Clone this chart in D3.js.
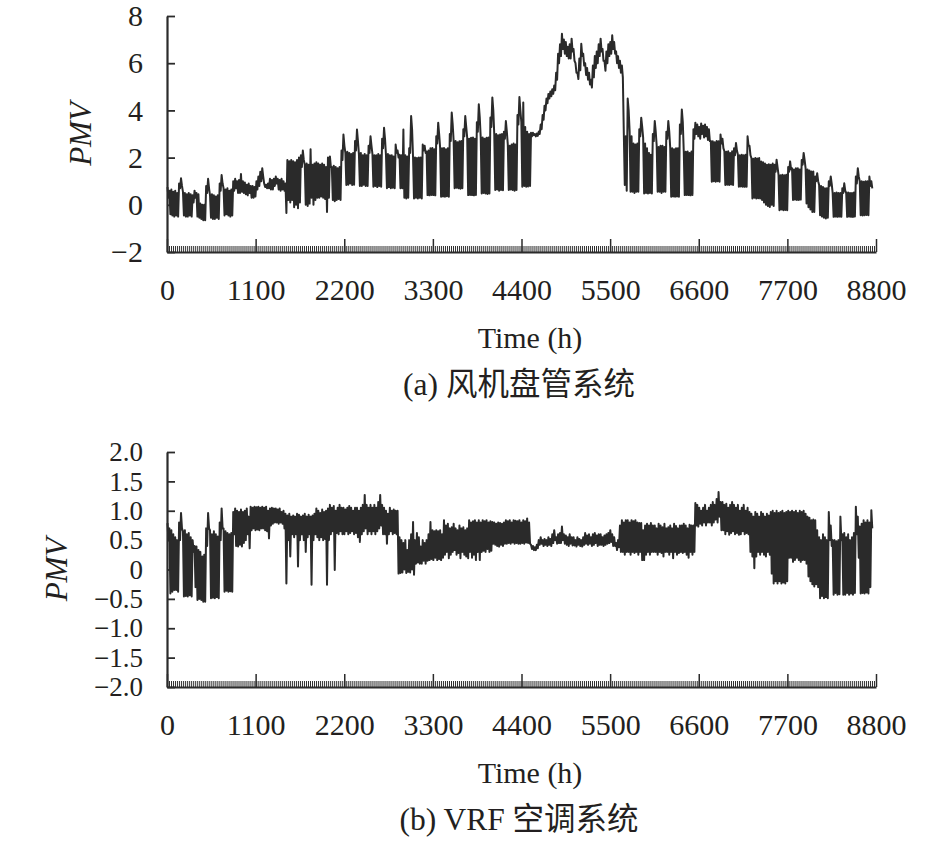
<!DOCTYPE html>
<html>
<head>
<meta charset="utf-8">
<script src="https://cdn.jsdelivr.net/npm/d3@7"></script>
<style>
  body { margin: 0; background: #fff; }
  text { font-family: "Liberation Serif", "Times New Roman", "Noto Sans CJK SC", serif; fill: #231f20; }
</style>
</head>
<body>
<svg id="chart" width="945" height="850"></svg>
<script>
// tick labels
const xTicks = [0, 1100, 2200, 3300, 4400, 5500, 6600, 7700, 8800];
const fcuTicks = [-2, 0, 2, 4, 6, 8];
const vrfTicks = [-2, -1.5, -1, -0.5, 0, 0.5, 1, 1.5, 2];

// daily PMV extremes, one row per week (Sun..Sat)
// (a) fan coil system
const fcuMax = [
  0.75, 0.6, 0.65, 0.55, 0.6, 0.5, 0.9,
  1.12, 0.55, 0.5, 0.45, 0.5, 0.45, 0.4,
  0.6, 0.5, 0.45, 0.05, 0.0, 0.0, 0.8,
  1.1, 0.4, 0.45, 0.4, 0.35, 0.4, 0.9,
  1.26, 0.7, 0.65, 0.7, 0.6, 0.65, 1.0,
  1.1, 1.0, 1.05, 1.3, 1.0, 0.95, 0.85,
  0.9, 0.8, 0.8, 0.75, 1.0, 1.2, 1.4,
  1.55, 0.9, 0.85, 0.9, 1.1, 1.05, 1.1,
  1.2, 1.1, 1.05, 1.1, 1.0, 0.9, 1.9,
  1.85, 1.9, 1.85, 1.8, 1.9, 2.0, 2.1,
  2.3, 1.7, 1.75, 1.7, 2.35, 1.7, 1.75,
  1.8, 1.75, 1.7, 1.75, 1.7, 1.6, 2.0,
  2.05, 1.6, 1.65, 1.6, 1.55, 1.6, 2.3,
  2.98, 2.2, 2.25, 2.2, 2.15, 2.2, 2.7,
  3.19, 2.15, 2.2, 2.1, 2.15, 2.1, 2.5,
  2.9, 2.15, 2.1, 2.1, 2.15, 2.1, 2.8,
  3.26, 2.1, 2.15, 2.1, 2.1, 2.05, 2.55,
  2.3, 2.12, 2.1, 3.19, 2.1, 2.05, 2.4,
  3.76, 2.0, 2.0, 1.98, 2.0, 2.0, 2.55,
  2.5, 2.26, 2.3, 2.4, 2.41, 2.35, 2.9,
  3.48, 2.41, 2.4, 2.41, 2.35, 2.4, 3.0,
  3.91, 2.69, 2.7, 2.65, 2.69, 2.7, 3.2,
  3.76, 2.84, 2.8, 2.84, 2.85, 2.8, 3.5,
  4.26, 2.84, 2.85, 2.8, 2.84, 2.85, 3.7,
  4.55, 2.98, 3.0, 2.95, 2.98, 3.0, 3.1,
  3.55, 2.55, 2.5, 2.55, 2.6, 2.55, 3.8,
  4.57, 3.5, 4.33, 3.3, 3.1, 3.0, 3.05,
  3.05, 3.0, 3.02, 3.1, 3.4, 3.8, 4.2,
  4.5, 4.7, 4.8, 4.9, 5.05, 5.6, 6.4,
  6.8, 7.25, 7.0, 6.9, 6.7, 6.8, 7.04,
  6.6, 6.0, 5.6, 6.2, 6.82, 6.4, 6.0,
  5.8, 5.6, 5.3, 5.9, 6.3, 6.5, 6.8,
  7.04, 6.6, 6.1, 6.5, 6.8, 6.9, 7.18,
  6.9, 6.5, 6.3, 6.1, 5.9, 3.0, 2.9,
  4.5, 3.1, 2.9, 2.6, 2.55, 2.6, 3.2,
  3.69, 2.84, 2.6, 2.4, 2.2, 2.12, 3.0,
  3.55, 2.5, 2.45, 2.5, 2.5, 2.45, 3.1,
  3.55, 2.4, 2.4, 2.35, 2.4, 2.4, 3.4,
  4.04, 2.26, 2.25, 2.26, 2.2, 2.26, 3.2,
  3.48, 3.4, 3.3, 3.45, 3.35, 3.4, 3.3,
  3.2, 2.7, 2.69, 2.65, 2.7, 2.69, 2.98,
  2.8, 2.27, 2.25, 2.27, 2.2, 2.27, 2.4,
  2.62, 2.12, 2.1, 2.12, 2.1, 2.12, 2.9,
  2.5, 1.98, 1.95, 1.98, 1.96, 1.98, 1.84,
  1.8, 1.75, 1.7, 1.72, 1.7, 1.75, 1.7,
  1.91, 1.27, 1.25, 1.27, 1.25, 1.27, 1.6,
  1.84, 1.55, 1.5, 1.55, 1.55, 1.5, 1.9,
  2.2, 1.55, 1.5, 1.45, 1.41, 1.41, 1.2,
  1.34, 0.84, 0.8, 0.75, 0.7, 0.7, 1.0,
  1.2, 0.5, 0.5, 0.52, 0.5, 0.5, 0.7,
  0.91, 0.5, 0.52, 0.5, 0.5, 0.52, 1.2,
  1.55, 1.0, 1.0, 0.98, 1.0, 1.0, 1.2,
  1.0
];
const fcuMin = [
  0.3, -0.4, -0.45, -0.5, -0.45, -0.5, 0.7,
  0.8, -0.45, -0.5, -0.5, -0.45, -0.5, 0.1,
  0.3, -0.5, -0.55, -0.6, -0.65, -0.65, 0.5,
  0.7, -0.55, -0.6, -0.6, -0.55, -0.6, 0.6,
  0.9, -0.45, -0.4, -0.45, -0.5, -0.45, 0.6,
  0.7, 0.5, 0.5, 0.55, 0.5, 0.45, 0.4,
  0.5, 0.3, 0.3, 0.35, 0.65, 0.8, 1.0,
  1.2, 0.75, 0.7, 0.7, 0.65, 0.65, 0.8,
  0.9, 0.65, 0.6, 0.65, 0.6, -0.35, 0.2,
  0.1, 0.2, -0.1, 0.0, -0.15, 0.1, 1.6,
  1.9, 0.0, -0.05, 0.05, 0.3, 0.0, 0.2,
  0.3, 0.3, 0.35, 0.3, 0.25, -0.3, 0.3,
  1.6, 0.2, 0.15, 0.2, 0.25, 0.2, 1.9,
  2.5, 0.84, 0.85, 0.9, 0.84, 0.85, 2.3,
  2.7, 0.8, 0.8, 0.85, 0.8, 0.8, 2.2,
  2.5, 0.77, 0.8, 0.75, 0.8, 0.77, 2.4,
  2.8, 0.7, 0.75, 0.7, 0.72, 0.7, 2.2,
  2.0, 0.7, 0.7, 0.3, 0.27, 0.3, 2.2,
  3.2, 0.27, 0.3, 0.27, 0.3, 0.27, 2.3,
  2.2, 0.41, 0.4, 0.42, 0.41, 0.4, 2.6,
  3.0, 0.34, 0.35, 0.34, 0.36, 0.34, 2.7,
  3.4, 0.7, 0.72, 0.7, 0.68, 0.7, 2.9,
  3.3, 0.41, 0.42, 0.41, 0.4, 0.42, 3.1,
  3.7, 0.48, 0.5, 0.48, 0.46, 0.48, 3.3,
  4.0, 0.63, 0.65, 0.6, 0.63, 0.62, 2.8,
  3.1, 0.63, 0.65, 0.63, 0.6, 0.63, 3.4,
  4.0, 0.77, 0.8, 0.77, 0.78, 0.8, 2.9,
  2.95, 2.9, 2.92, 3.0, 3.2, 3.6, 4.0,
  4.3, 4.5, 4.6, 4.7, 4.85, 5.3, 6.0,
  6.3, 6.6, 6.4, 6.3, 6.2, 6.2, 6.5,
  6.1, 5.6, 5.33, 5.7, 6.3, 5.9, 5.5,
  5.3, 5.1, 4.97, 5.4, 5.8, 6.0, 6.3,
  6.5, 6.1, 5.68, 6.0, 6.3, 6.4, 6.6,
  6.4, 6.0, 5.8, 5.6, 5.4, 0.84, 0.6,
  4.0, 0.55, 0.55, 0.5, 0.55, 0.55, 2.9,
  3.3, 0.48, 0.5, 0.48, 0.5, 0.48, 2.7,
  3.1, 0.55, 0.55, 0.5, 0.55, 0.55, 2.8,
  3.1, 0.34, 0.35, 0.34, 0.35, 0.34, 3.0,
  3.5, 0.41, 0.42, 0.41, 0.4, 0.42, 2.8,
  3.0, 2.9, 2.8, 3.0, 2.85, 2.9, 2.75,
  2.7, 0.98, 1.0, 0.98, 1.0, 0.98, 2.6,
  2.4, 0.84, 0.85, 0.84, 0.86, 0.84, 2.1,
  2.3, 0.77, 0.78, 0.77, 0.76, 0.77, 2.5,
  2.1, 0.27, 0.3, 0.27, 0.28, 0.27, 0.2,
  0.1, 0.0, -0.05, -0.09, 0.0, -0.05, 1.4,
  1.6, -0.23, -0.2, -0.23, -0.22, -0.23, 1.4,
  1.5, 0.2, 0.22, 0.2, 0.2, 0.22, 1.7,
  1.9, 0.06, -0.1, -0.2, -0.3, -0.3, 1.0,
  1.0, -0.44, -0.5, -0.55, -0.58, -0.55, 0.8,
  0.9, -0.51, -0.5, -0.51, -0.5, -0.51, 0.5,
  0.6, -0.51, -0.5, -0.51, -0.52, -0.5, 0.9,
  1.2, -0.44, -0.45, -0.44, -0.43, -0.44, 0.8,
  0.7
];

// (b) VRF system
const vrfMax = [
  0.79, 0.7, 0.67, 0.6, 0.55, 0.5, 0.8,
  0.96, 0.65, 0.67, 0.6, 0.62, 0.55, 0.5,
  0.4, 0.39, 0.33, 0.3, 0.22, 0.25, 0.7,
  0.96, 0.67, 0.6, 0.65, 0.6, 0.56, 0.8,
  1.04, 0.7, 0.65, 0.62, 0.6, 0.62, 0.98,
  1.04, 1.0, 0.98, 1.02, 0.98, 1.0, 1.04,
  0.9, 1.07, 1.05, 1.07, 1.06, 1.07, 1.05,
  1.07, 1.05, 1.07, 1.0, 1.04, 1.05, 1.04,
  1.04, 1.02, 1.04, 0.98, 1.0, 0.95, 0.92,
  0.95, 0.9, 0.92, 0.9, 0.95, 0.93, 0.9,
  0.92, 0.95, 0.9, 0.93, 0.9, 0.92, 0.95,
  1.04, 1.0, 0.96, 1.02, 0.98, 1.0, 1.04,
  1.1, 1.05, 1.08, 1.0, 1.05, 1.1, 1.05,
  1.05, 1.02, 1.05, 1.08, 1.05, 1.0, 1.05,
  1.05, 1.0, 1.05, 1.1, 1.27, 1.1, 1.05,
  1.1, 1.05, 1.1, 1.05, 1.15, 1.27, 1.1,
  1.05, 1.0, 0.95, 1.05, 1.0, 1.02, 1.0,
  1.0, 0.55, 0.5, 0.45, 0.5, 0.33, 0.5,
  0.6, 0.81, 0.5, 0.62, 0.55, 0.39, 0.5,
  0.45, 0.5, 0.6, 0.81, 0.67, 0.65, 0.67,
  0.65, 0.67, 0.6, 0.84, 0.75, 0.78, 0.7,
  0.72, 0.78, 0.7, 0.67, 0.75, 0.7, 0.72,
  0.67, 0.7, 0.84, 0.8, 0.82, 0.84, 0.8,
  0.84, 0.8, 0.84, 0.82, 0.84, 0.8, 0.82,
  0.81, 0.8, 0.78, 0.8, 0.79, 0.78, 0.8,
  0.84, 0.82, 0.84, 0.8, 0.84, 0.83, 0.82,
  0.84, 0.8, 0.84, 0.82, 0.87, 0.8, 0.42,
  0.4, 0.38, 0.42, 0.5, 0.55, 0.5, 0.52,
  0.5, 0.55, 0.52, 0.6, 0.67, 0.55, 0.6,
  0.62, 0.73, 0.6, 0.58, 0.55, 0.6, 0.55,
  0.55, 0.5, 0.55, 0.52, 0.5, 0.55, 0.62,
  0.58, 0.6, 0.55, 0.6, 0.62, 0.58, 0.6,
  0.6, 0.55, 0.58, 0.6, 0.62, 0.67, 0.6,
  0.55, 0.45, 0.5, 0.75, 0.84, 0.8, 0.84,
  0.84, 0.8, 0.84, 0.82, 0.84, 0.8, 0.79,
  0.79, 0.67, 0.75, 0.78, 0.75, 0.79, 0.75,
  0.75, 0.7, 0.78, 0.75, 0.72, 0.78, 0.7,
  0.72, 0.75, 0.7, 0.78, 0.74, 0.7, 0.75,
  0.75, 0.78, 0.75, 0.7, 0.76, 0.75, 0.75,
  1.13, 1.1, 1.05, 1.0, 1.05, 1.1, 1.0,
  1.05, 1.1, 1.15, 1.1, 1.2, 1.32, 1.15,
  1.15, 1.1, 1.12, 1.05, 1.1, 1.15, 1.1,
  1.05, 1.1, 1.0, 1.05, 1.1, 1.0, 1.05,
  0.98, 0.95, 0.9, 0.98, 0.95, 0.9, 0.98,
  0.95, 0.9, 0.95, 0.92, 0.98, 1.0, 0.96,
  1.0, 0.96, 0.98, 1.0, 0.96, 0.98, 1.0,
  0.98, 1.0, 0.98, 1.0, 0.96, 1.0, 0.98,
  1.0, 0.95, 0.9, 0.88, 0.84, 0.85, 0.84,
  0.67, 0.55, 0.5, 0.6, 0.55, 0.5, 0.98,
  0.75, 0.5, 0.5, 0.48, 0.5, 0.9, 0.6,
  0.62, 0.55, 0.6, 0.5, 0.55, 0.62, 1.07,
  0.9, 0.73, 0.78, 0.84, 0.8, 0.84, 0.8,
  1.01
];
const vrfMin = [
  0.5, -0.41, -0.38, -0.35, -0.35, -0.38, 0.5,
  0.7, -0.46, -0.45, -0.46, -0.44, -0.46, 0.3,
  -0.3, -0.52, -0.5, -0.52, -0.55, -0.55, 0.4,
  0.7, -0.49, -0.48, -0.49, -0.47, -0.49, 0.5,
  0.7, -0.38, -0.36, -0.38, -0.37, -0.38, 0.6,
  0.4, 0.39, 0.42, 0.39, 0.45, 0.5, 0.6,
  0.36, 0.67, 0.7, 0.67, 0.68, 0.67, 0.7,
  0.7, 0.67, 0.65, 0.53, 0.75, 0.78, 0.8,
  0.8, 0.78, 0.8, 0.78, 0.7, -0.24, 0.5,
  0.22, 0.6, 0.55, 0.6, 0.05, 0.5, 0.6,
  0.5, 0.3, 0.55, 0.6, -0.26, 0.5, 0.6,
  0.55, 0.5, 0.55, 0.5, 0.52, -0.26, 0.5,
  0.6, 0.65, -0.01, 0.62, 0.6, 0.65, 0.6,
  0.6, 0.65, 0.6, 0.62, 0.65, 0.6, 0.62,
  0.55, 0.47, 0.6, 0.65, 0.7, 0.6, 0.65,
  0.6, 0.65, 0.6, 0.65, 0.7, 0.75, 0.6,
  0.6, 0.44, 0.6, 0.65, 0.6, 0.62, 0.6,
  -0.07, -0.06, -0.05, 0.0, -0.06, -0.04, -0.05,
  0.0, -0.09, 0.1, 0.12, 0.1, 0.1, 0.15,
  0.1, 0.15, 0.16, 0.18, 0.16, 0.2, 0.16,
  0.18, 0.16, 0.2, 0.25, 0.3, 0.19, 0.25,
  0.3, 0.33, 0.25, 0.28, 0.19, 0.3, 0.25,
  0.22, 0.19, 0.3, 0.2, 0.25, 0.16, 0.3,
  0.16, 0.3, 0.32, 0.3, 0.35, 0.3, 0.32,
  0.44, 0.42, 0.4, 0.39, 0.42, 0.4, 0.44,
  0.44, 0.45, 0.44, 0.46, 0.44, 0.45, 0.44,
  0.44, 0.45, 0.44, 0.46, 0.45, 0.44, 0.35,
  0.33, 0.33, 0.36, 0.42, 0.44, 0.4, 0.42,
  0.4, 0.42, 0.4, 0.45, 0.5, 0.44, 0.45,
  0.45, 0.5, 0.44, 0.42, 0.4, 0.44, 0.41,
  0.41, 0.39, 0.42, 0.4, 0.39, 0.42, 0.44,
  0.42, 0.44, 0.4, 0.42, 0.45, 0.4, 0.42,
  0.42, 0.4, 0.42, 0.44, 0.45, 0.47, 0.4,
  0.4, 0.33, 0.38, 0.3, 0.3, 0.25, 0.3,
  0.3, 0.25, 0.3, 0.28, 0.3, 0.25, 0.3,
  0.16, 0.16, 0.25, 0.3, 0.25, 0.3, 0.3,
  0.3, 0.25, 0.3, 0.28, 0.22, 0.3, 0.3,
  0.25, 0.3, 0.19, 0.3, 0.25, 0.28, 0.3,
  0.28, 0.3, 0.25, 0.2, 0.3, 0.25, 0.3,
  0.75, 0.73, 0.78, 0.75, 0.8, 0.75, 0.8,
  0.8, 0.75, 0.8, 0.85, 0.8, 0.9, 0.67,
  0.67, 0.6, 0.65, 0.59, 0.62, 0.65, 0.6,
  0.62, 0.59, 0.6, 0.65, 0.6, 0.62, 0.6,
  0.3, 0.22, 0.02, 0.22, 0.3, 0.25, 0.3,
  0.25, 0.22, 0.3, 0.25, -0.07, -0.24, -0.2,
  -0.24, -0.2, -0.24, -0.22, -0.24, -0.2, 0.2,
  0.2, 0.13, 0.16, 0.2, 0.16, 0.13, 0.16,
  0.16, 0.1, -0.12, -0.2, -0.25, -0.29, -0.25,
  -0.3, -0.49, -0.45, -0.49, -0.47, -0.49, 0.5,
  0.4, -0.43, -0.4, -0.43, -0.42, 0.5, -0.43,
  -0.43, -0.4, -0.43, -0.41, -0.43, -0.4, 0.6,
  0.2, -0.41, -0.4, -0.41, -0.39, -0.41, -0.3,
  0.7
];

const svg = d3.select("#chart");
const x = d3.scaleLinear().domain([0, 8800]).range([167, 876]);
const minorTicks = d3.range(0, 8801, 25);
const serif = "'Liberation Serif', 'Times New Roman', serif";
const fmtY = d => d === 0 ? "0" : (d < 0 ? "\u2212" : "") + d3.format(".1f")(Math.abs(d));

// two points a day: the day's high in the morning, its low in the afternoon
function dayPoints(hi, lo) {
    let pts = [];
    hi.forEach((v, d) => {
        pts.push({h: d * 24 + 6, v: v});
        pts.push({h: d * 24 + 18, v: lo[d]});
    });
    return pts;
}

function drawPanel(cfg) {
    let y = d3.scaleLinear().domain(cfg.domain).range([cfg.bottom, cfg.top]);
    let g = svg.append("g");

    // minor ticks on the time axis
    g.append("g")
        .attr("transform", `translate(0,${cfg.bottom})`)
        .call(d3.axisBottom(x).tickValues(minorTicks).tickSizeInner(-6).tickSizeOuter(0).tickFormat(""))
        .call(a => a.select(".domain").remove())
        .call(a => a.selectAll(".tick line").attr("stroke", "#2e2e2e").attr("stroke-width", 1));

    // major ticks + labels
    g.append("g")
        .attr("transform", `translate(0,${cfg.bottom})`)
        .call(d3.axisBottom(x).tickValues(xTicks).tickSizeInner(-13).tickSizeOuter(0).tickPadding(27).tickFormat(d3.format("d")))
        .call(a => a.select(".domain").attr("stroke", "#2b2b2b").attr("stroke-width", 2.2))
        .call(a => a.selectAll(".tick line").attr("stroke", "#2b2b2b").attr("stroke-width", 1.5))
        .call(a => a.selectAll(".tick text").attr("font-size", "30px").attr("fill", "#231f20")
            .style("font-family", serif));

    // y axis
    g.append("g")
        .attr("transform", "translate(167,0)")
        .call(d3.axisLeft(y).tickValues(cfg.ticks).tickSizeInner(-8).tickSizeOuter(0).tickPadding(24).tickFormat(cfg.fmt))
        .call(a => a.select(".domain").attr("stroke", "#2b2b2b").attr("stroke-width", 2.2))
        .call(a => a.selectAll(".tick line").attr("stroke", "#2b2b2b").attr("stroke-width", 1.8))
        .call(a => a.selectAll(".tick text").attr("font-size", cfg.yFont).attr("fill", "#231f20")
            .style("font-family", serif));

    // PMV series
    let line = d3.line()
        .x(p => x(p.h))
        .y(p => y(p.v));

    g.append("path")
        .datum(dayPoints(cfg.hi, cfg.lo))
        .attr("fill", "none")
        .attr("stroke", "#2a2a2a")
        .attr("stroke-width", 2)
        .attr("stroke-linejoin", "round")
        .attr("d", line);

    // y label
    g.append("text")
        .attr("transform", `translate(${cfg.ylabX},${(cfg.top + cfg.bottom) / 2}) rotate(-90)`)
        .attr("text-anchor", "middle")
        .attr("dy", "0.35em")
        .style("font-size", "31px")
        .style("font-style", "italic")
        .text("PMV");

    // x label
    g.append("text")
        .attr("x", 530)
        .attr("y", cfg.bottom + 96)
        .attr("text-anchor", "middle")
        .style("font-size", "30px")
        .text("Time (h)");

    // caption
    g.append("text")
        .attr("x", 519)
        .attr("y", cfg.bottom + 143)
        .attr("text-anchor", "middle")
        .style("font-size", "31.5px")
        .text(cfg.caption);
}

drawPanel({
    domain: [-2, 8], top: 16, bottom: 252, ticks: fcuTicks, yFont: "30px",
    fmt: d => d < 0 ? "\u2212" + Math.abs(d) : String(d),
    hi: fcuMax, lo: fcuMin, ylabX: 80, caption: "(a) 风机盘管系统"
});

drawPanel({
    domain: [-2, 2], top: 452, bottom: 687, ticks: vrfTicks, yFont: "27px",
    fmt: fmtY,
    hi: vrfMax, lo: vrfMin, ylabX: 56, caption: "(b) VRF 空调系统"
});
</script>
</body>
</html>
